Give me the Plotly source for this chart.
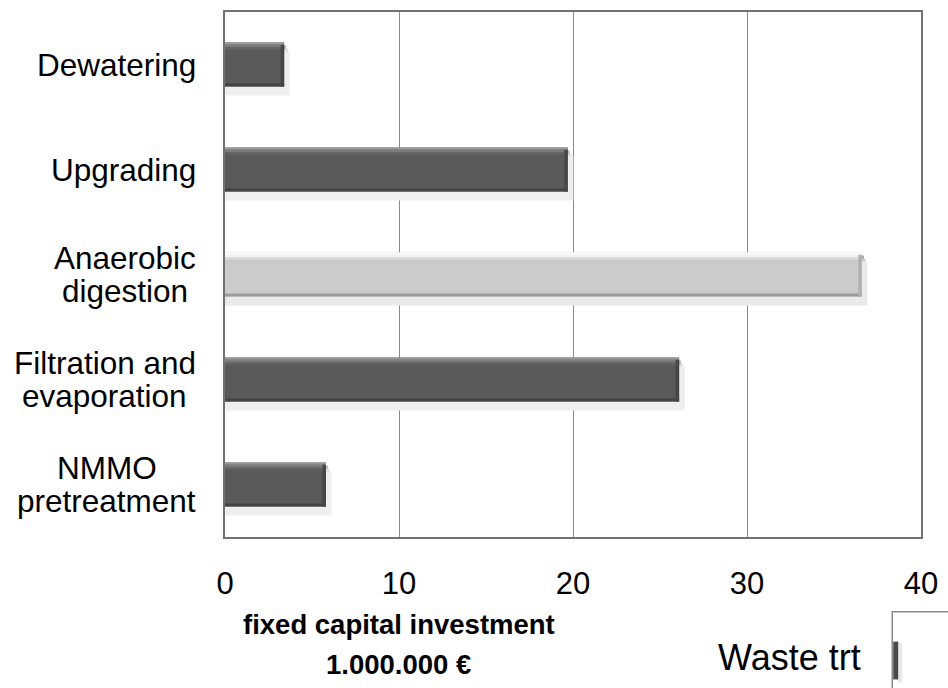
import plotly.graph_objects as go

# Process steps, listed bottom to top on the chart (each label split into its lines)
steps = [["NMMO", "pretreatment"], ["Filtration and", "evaporation"], ["Anaerobic", "digestion"],
         ["Upgrading"], ["Dewatering"]]
investment = [5.8, 26.1, 36.6, 19.7, 3.4]   # fixed capital investment, million €
highlight = [False, False, True, False, False]

x_ticks = [0, 10, 20, 30, 40]
x_tick_labels = ["0", "10", "20", "30", "40"]

FONT = "Liberation Sans, Arial, sans-serif"
W, H = 948, 688
ML, MR, MT, MB = 225, 21, 10, 151
PW, PH = W - ML - MR, H - MT - MB

pos = list(range(len(steps)))
half = 0.21  # half bar thickness in category units

# colour sets for the dark bars and the highlighted light bar
dark = dict(body="#5a5a5a", tops=["#9a9a9a", "#7c7c7c", "#666666"], bottom="#434343", right="#474747",
            shadow=["#bdbdbd", "#dedede", "#efefef"])
light = dict(body="#cbcbcb", tops=["#ffffff", "#f2f2f2", "#dcdcdc"], bottom="#9c9c9c", right="#b0b0b0",
             shadow=["#ababab", "#d0d0d0", "#eaeaea"])

def style(i):
    return light if highlight[i] else dark

def px_x(p):
    return (p - ML) / PW

def px_y(p):
    return (MT + PH - p) / PH

# Arial / Liberation Sans advance widths (1/1000 em) for centring label lines
ADV = {"N": 722, "M": 833, "O": 778, "p": 556, "r": 333, "e": 556, "t": 278, "a": 556,
       "m": 833, "n": 556, "F": 611, "i": 222, "l": 222, "o": 556, "d": 556, "v": 500,
       "A": 667, "b": 556, "c": 500, "g": 556, "s": 500, " ": 278, "U": 722, "D": 722,
       "w": 722}

def text_width(s, size):
    return sum(ADV.get(ch, 556) for ch in s) * size / 1000.0

fig = go.Figure()

# soft drop shadow below and right of each bar
for k, dy in enumerate([0.03, 0.06, 0.085]):
    fig.add_trace(go.Bar(
        y=pos, x=[v + 0.12 + 0.1 * k for v in investment], orientation="h",
        offset=-half - dy, width=2 * half,
        marker=dict(color=[style(i)["shadow"][k] for i in pos], line=dict(width=0)),
        hoverinfo="skip", showlegend=False))

# bar body
fig.add_trace(go.Bar(
    y=pos, x=investment, orientation="h", offset=-half, width=2 * half,
    marker=dict(color=[style(i)["body"] for i in pos], line=dict(width=0)),
    name="Waste trt", showlegend=False))

# top bevel highlight (graded strips)
strip = 0.022
for k in range(3):
    fig.add_trace(go.Bar(
        y=pos, x=investment, orientation="h",
        offset=half - strip * (k + 1), width=strip,
        marker=dict(color=[style(i)["tops"][k] for i in pos], line=dict(width=0)),
        hoverinfo="skip", showlegend=False))

# bottom bevel edge
fig.add_trace(go.Bar(
    y=pos, x=investment, orientation="h", offset=-half, width=0.03,
    marker=dict(color=[style(i)["bottom"] for i in pos], line=dict(width=0)),
    hoverinfo="skip", showlegend=False))

# right end bevel
fig.add_trace(go.Bar(
    y=pos, x=[0.2] * len(pos), base=[v - 0.2 for v in investment], orientation="h",
    offset=-half, width=2 * half - strip,
    marker=dict(color=[style(i)["right"] for i in pos], line=dict(width=0)),
    hoverinfo="skip", showlegend=False))

annotations = []
# Category labels: each block is right-aligned next to the axis, its lines
# centred on each other with a 33 px line spacing.
LABEL_SIZE = 31.5
LABEL_RIGHT = 195
LINE_GAP = 33
for i, lines in enumerate(steps):
    n = len(lines)
    block_w = max(text_width(l, LABEL_SIZE) for l in lines)
    cx = LABEL_RIGHT - block_w / 2
    for j, txt in enumerate(lines):
        shift = ((n - 1) / 2 - j) * LINE_GAP
        annotations.append(dict(
            text=txt, x=px_x(cx), xref="paper", xanchor="center",
            y=pos[i], yref="y", yanchor="middle", yshift=shift, showarrow=False,
            font=dict(family=FONT, size=LABEL_SIZE, color="#000000")))

# axis title, two lines
for txt, yc in [("<b>fixed capital investment</b>", 625), ("<b>1.000.000 €</b>", 665)]:
    annotations.append(dict(
        text=txt, x=px_x(400), xref="paper", xanchor="center",
        y=px_y(yc), yref="paper", yanchor="middle",
        showarrow=False, font=dict(family=FONT, size=27.5, color="#000000")))

# legend entry
annotations.append(dict(
    text="Waste trt", x=px_x(868), xref="paper", xanchor="right",
    y=px_y(658), yref="paper", yanchor="middle",
    showarrow=False, font=dict(family=FONT, size=36, color="#000000")))

shapes = [
    # legend frame
    dict(type="rect", xref="paper", yref="paper",
         x0=px_x(898), x1=px_x(990), y0=px_y(612), y1=px_y(720),
         line=dict(color="#8a8a8a", width=1.5), fillcolor="rgba(0,0,0,0)"),
    # legend swatch
    dict(type="rect", xref="paper", yref="paper",
         x0=px_x(904), x1=px_x(908), y0=px_y(643), y1=px_y(683),
         line=dict(width=0), fillcolor="#e8e8e8"),
    dict(type="rect", xref="paper", yref="paper",
         x0=px_x(899), x1=px_x(904), y0=px_y(642), y1=px_y(680),
         line=dict(width=0), fillcolor="#4a4a4a"),
]

fig.update_layout(
    width=W, height=H,
    margin=dict(l=ML, r=MR, t=MT, b=MB),
    paper_bgcolor="white", plot_bgcolor="white",
    barmode="overlay",
    showlegend=False,
    font=dict(family=FONT, color="#000000"),
    annotations=annotations,
    shapes=shapes,
    xaxis=dict(
        range=[0, 40], tickvals=x_ticks, ticktext=x_tick_labels,
        showgrid=True, gridcolor="#8a8a8a", gridwidth=1.2,
        zeroline=False, showline=True, linecolor="#727272", linewidth=1.6, mirror=True,
        ticks="", ticklabelstandoff=18,
        tickfont=dict(family=FONT, size=31, color="#000000"),
    ),
    yaxis=dict(
        range=[-0.5, 4.5], showticklabels=False, showgrid=False, zeroline=False,
        showline=True, linecolor="#727272", linewidth=1.6, mirror=True, ticks="",
    ),
)

fig.write_html("out.html")
